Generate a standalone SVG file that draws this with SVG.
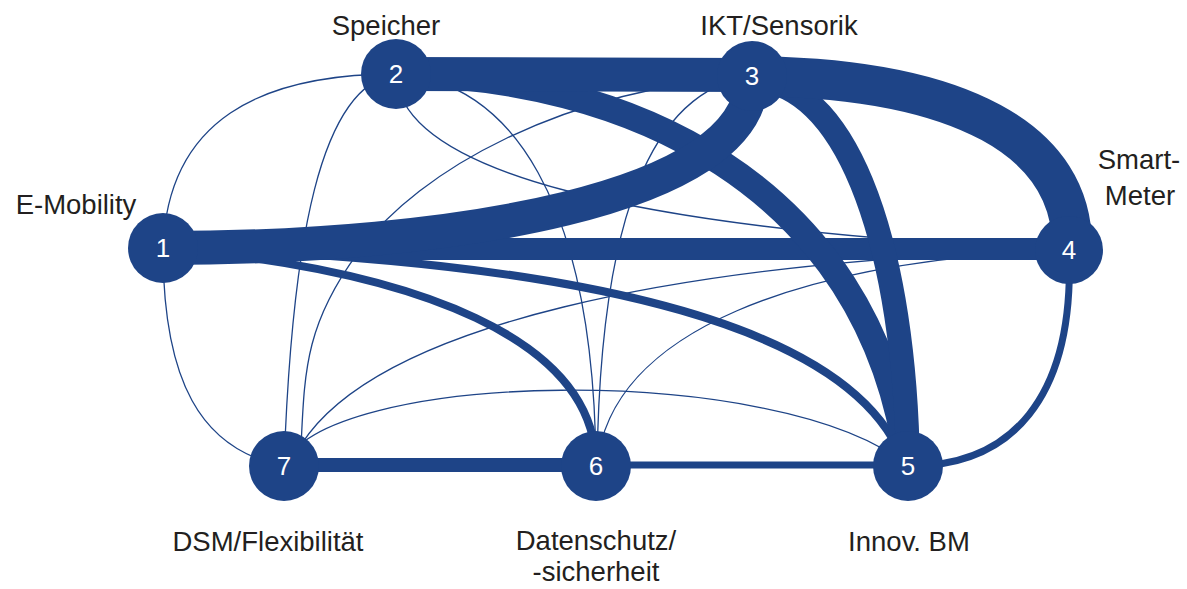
<svg xmlns="http://www.w3.org/2000/svg" width="1187" height="589" viewBox="0 0 1187 589">
  <style>
    .edge { fill: none; stroke: #1e4487; stroke-linecap: butt; }
    .thin { stroke-width: 1.3; }
    .node circle { fill: #1e4487; }
    .num { font-family: "Liberation Sans", Arial, sans-serif; font-size: 26px; fill: #ffffff; text-anchor: middle; }
    .label { font-family: "Liberation Sans", Arial, sans-serif; font-size: 27.5px; fill: #231f20; text-anchor: middle; }
  </style>
  <rect width="1187" height="589" fill="#ffffff"/>

  <!-- connectors: stroke width reflects link strength -->
  <g id="connectors">
    <!-- weak links -->
    <path class="edge thin" d="M163,248 C168,120 260,74 396,74"/>
    <path class="edge thin" d="M163,248 C163,380 200,450 284,466"/>
    <path class="edge thin" d="M396,74 C320,85 292,240 284,466"/>
    <path class="edge thin" d="M396,74 C510,80 594,200 596,466"/>
    <path class="edge thin" d="M396,74 C400,170 620,230 1069,250"/>
    <path class="edge thin" d="M752,76 C650,90 600,220 597,466"/>
    <path class="edge thin" d="M752,76 C560,90 420,170 360,250 S305,380 300,466"/>
    <path class="edge thin" d="M1069,250 C800,260 610,330 597,466"/>
    <path class="edge thin" d="M1069,250 C700,260 350,320 290,466"/>
    <path class="edge thin" d="M284,466 C320,370 780,360 908,466"/>
    <!-- medium links -->
    <path class="edge" stroke-width="8" d="M163,248 C600,260 860,330 905,466"/>
    <path class="edge" stroke-width="8" d="M163,248 C420,270 596,340 596,466"/>
    <path class="edge" stroke-width="7" d="M1069,250 C1075,400 1010,467 908,466"/>
    <path class="edge" stroke-width="7" d="M596,465 L908,465"/>
    <path class="edge" stroke-width="14" d="M284,465 L596,465"/>
    <!-- strong links -->
    <path class="edge" stroke-width="22" d="M163,249 L1069,249"/>
    <path class="edge" stroke-width="26" d="M396,74 C620,75 870,180 908,466"/>
    <path class="edge" stroke-width="24" d="M760,80 C850,90 905,250 908,466"/>
    <path class="edge" stroke-width="34" d="M163,248 C450,248 752,200 752,78"/>
    <path class="edge" stroke-width="34" d="M396,74 L752,75"/>
    <path class="edge" stroke-width="40" d="M752,76 C960,78 1075,140 1072,250"/>
  </g>

  <g id="node-1" class="node">
    <circle cx="163" cy="248" r="35"/>
    <text class="num" x="163" y="257">1</text>
    <text class="label" x="76" y="214">E-Mobility</text>
  </g>
  <g id="node-2" class="node">
    <circle cx="396" cy="74" r="35"/>
    <text class="num" x="396" y="83">2</text>
    <text class="label" x="386" y="35">Speicher</text>
  </g>
  <g id="node-3" class="node">
    <circle cx="752" cy="76" r="35"/>
    <text class="num" x="752" y="85">3</text>
    <text class="label" x="779" y="35">IKT/Sensorik</text>
  </g>
  <g id="node-4" class="node">
    <circle cx="1069" cy="250" r="34"/>
    <text class="num" x="1069" y="259">4</text>
    <text class="label" x="1139" y="169">Smart-</text>
    <text class="label" x="1140" y="205">Meter</text>
  </g>
  <g id="node-5" class="node">
    <circle cx="908" cy="466" r="35"/>
    <text class="num" x="908" y="475">5</text>
    <text class="label" x="909" y="551">Innov. BM</text>
  </g>
  <g id="node-6" class="node">
    <circle cx="596" cy="466" r="35"/>
    <text class="num" x="596" y="475">6</text>
    <text class="label" x="596" y="550">Datenschutz/</text>
    <text class="label" x="596" y="581">-sicherheit</text>
  </g>
  <g id="node-7" class="node">
    <circle cx="284" cy="466" r="35"/>
    <text class="num" x="284" y="475">7</text>
    <text class="label" x="268" y="551">DSM/Flexibilität</text>
  </g>
</svg>
